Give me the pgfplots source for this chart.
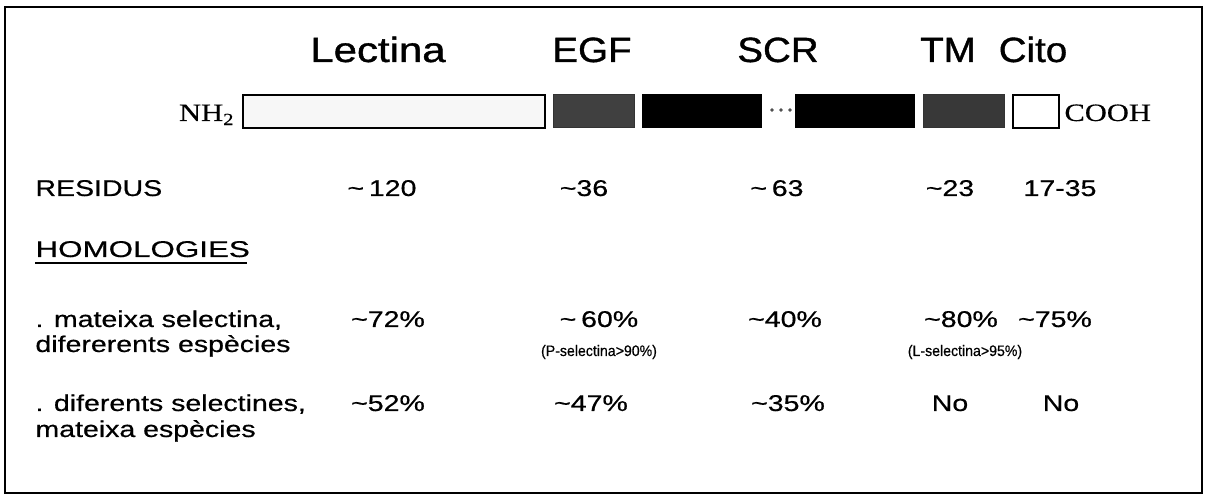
\documentclass[border=0pt]{standalone}
\usepackage{fontspec}
\setmainfont{Liberation Sans}
\newfontfamily\hfont{Liberation Sans}[FakeBold=1.0]
\newfontfamily\bfont{Liberation Sans}[FakeBold=0.5]
\newfontfamily\seriffont{Liberation Serif}[FakeBold=0.4]
\usepackage{pgfplots}
\pgfplotsset{compat=1.18}
\newcommand{\tl}{\textasciitilde}
\begin{document}
\begin{tikzpicture}[
 hdr/.style={font=\hfont\fontsize{17.5}{20}\selectfont, xscale=1.1, inner sep=0pt, anchor=base},
 bd/.style={font=\bfont\fontsize{11.4}{13}\selectfont, xscale=1.25, inner sep=0pt, anchor=base},
 bdl/.style={bd, anchor=base west},
 sm/.style={font=\bfont\fontsize{7.6}{9}\selectfont, xscale=0.93, inner sep=0pt, anchor=base},
 chem/.style={font=\seriffont\fontsize{12.5}{14}\selectfont, xscale=1.22, inner sep=0pt}]
\begin{axis}[scale only axis, width=603pt, height=248.5pt,
  xmin=0, xmax=1206, ymin=0, ymax=497, y dir=reverse, hide axis, clip=false]
\addplot[draw=none] coordinates {(0,0) (1206,497)};
% frame
\addplot[black, line width=1.1pt] coordinates {(5,7) (1202,7) (1202,493) (5,493)} -- cycle;
% domains: Lectina, EGF, SCR, SCR, TM, Cito
\addplot[draw=black, line width=1pt, fill=gray!6] coordinates {(243,95) (545,95) (545,128) (243,128)} -- cycle;
\addplot[draw=black!80, line width=0.5pt, fill=black!75] coordinates {(553,95) (634,95) (634,128) (553,128)} -- cycle;
\addplot[draw=black, line width=0.5pt, fill=black] coordinates {(642,95) (761,95) (761,128) (642,128)} -- cycle;
\addplot[only marks, mark=*, mark size=0.7pt, black!70] coordinates {(772,110) (781,110) (790,110)};
\addplot[draw=black, line width=0.5pt, fill=black] coordinates {(795,95) (914,95) (914,128) (795,128)} -- cycle;
\addplot[draw=black!80, line width=0.5pt, fill=black!78] coordinates {(923,95) (1004,95) (1004,128) (923,128)} -- cycle;
\addplot[draw=black, line width=1pt, fill=white] coordinates {(1013,95) (1059,95) (1059,128) (1013,128)} -- cycle;
% HOMOLOGIES underline
\addplot[black, line width=0.7pt] coordinates {(35,263) (247,263)};

% headers
\node[hdr, xscale=1.09] at (axis cs:378,62) {Lectina};
\node[hdr] at (axis cs:592,62) {EGF};
\node[hdr] at (axis cs:778,62) {SCR};
\node[hdr] at (axis cs:948,62) {TM};
\node[hdr] at (axis cs:1033,62) {Cito};
% chem ends
\node[chem, anchor=base east] at (axis cs:234,121) {NH\raisebox{-0.35ex}{\fontsize{8.5}{9}\selectfont 2}};
\node[chem, anchor=base west] at (axis cs:1064,121) {COOH};
% RESIDUS row
\node[bdl] at (axis cs:35,196) {RESIDUS};
\node[bd] at (axis cs:382,196) {\tl\,120};
\node[bd] at (axis cs:584,196) {\tl36};
\node[bd] at (axis cs:777,196) {\tl\,63};
\node[bd] at (axis cs:950,196) {\tl23};
\node[bd] at (axis cs:1060,196) {17-35};
% HOMOLOGIES
\node[bdl, xscale=1.1] at (axis cs:35,257) {HOMOLOGIES};
% row 3
\node[bdl] at (axis cs:35,327) {. mateixa selectina,};
\node[bdl] at (axis cs:35,352) {difererents espècies};
\node[bd] at (axis cs:388,327) {\tl72\%};
\node[bd] at (axis cs:599,327) {\tl\,60\%};
\node[bd] at (axis cs:785,327) {\tl40\%};
\node[bd] at (axis cs:961,327) {\tl80\%};
\node[bd] at (axis cs:1055,327) {\tl75\%};
\node[sm] at (axis cs:599,356) {(P-selectina>90\%)};
\node[sm] at (axis cs:965,356) {(L-selectina>95\%)};
% row 4
\node[bdl] at (axis cs:35,411) {. diferents selectines,};
\node[bdl] at (axis cs:35,437) {mateixa espècies};
\node[bd] at (axis cs:388,411) {\tl52\%};
\node[bd] at (axis cs:591,411) {\tl47\%};
\node[bd] at (axis cs:788,411) {\tl35\%};
\node[bd] at (axis cs:950,411) {No};
\node[bd] at (axis cs:1061,411) {No};
\end{axis}
\end{tikzpicture}
\end{document}
